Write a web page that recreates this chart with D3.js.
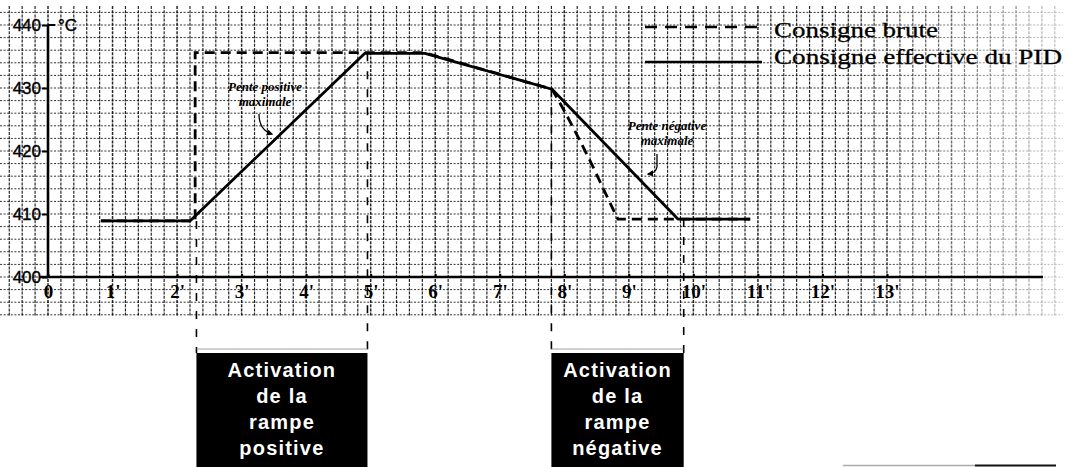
<!DOCTYPE html>
<html>
<head>
<meta charset="utf-8">
<script src="https://cdn.jsdelivr.net/npm/d3@7"></script>
<style>
  html, body { margin: 0; padding: 0; background: #fff; }
  svg { display: block; }
</style>
</head>
<body>
<svg id="chart" width="1067" height="467"></svg>
<script>
// ---- data (minutes, °C) ----
const xTicks = [0, 1, 2, 3, 4, 5, 6, 7, 8, 9, 10, 11, 12, 13];
const xLabels = ["0", "1'", "2'", "3'", "4'", "5'", "6'", "7'", "8'", "9'", "10'", "11'", "12'", "13'"];
const yTicks = [400, 410, 420, 430, 440];

// consigne effective du PID (solid)
const pidT = [0.82, 2.2, 4.91, 5.84, 7.81, 9.76, 10.88];
const pidV = [408.9, 408.9, 435.5, 435.5, 429.8, 409.2, 409.2];

// consigne brute (dashed)
const bruteT = [0.82, 2.28, 2.28, 5.84, 7.81, 8.01, 8.24, 8.43, 8.60, 8.74, 8.83, 9.76, 10.88];
const bruteV = [408.9, 408.9, 435.6, 435.6, 429.8, 426.2, 421.7, 417.8, 414.1, 411.1, 409.2, 409.2, 409.2];

// ramp activation windows
const rampStart = [2.3, 7.8];
const rampEnd = [4.95, 9.85];
const rampStartV = [408.9, 429.8];
const rampEndV = [435.5, 409.2];
const rampLabels = [
  ["Activation", "de la", "rampe", "positive"],
  ["Activation", "de la", "rampe", "négative"]
];

const legendLabels = ["Consigne brute", "Consigne effective du PID"];

// ---- scales ----
const svg = d3.select("#chart");
const W = 1067, H = 467;
const x = d3.scaleLinear().domain([0, 13]).range([48, 887]);
const y = d3.scaleLinear().domain([400, 440]).range([277, 25]);

// ---- graph paper grid ----
const defs = svg.append("defs");
const grad = defs.append("linearGradient")
  .attr("id", "fade").attr("gradientUnits", "userSpaceOnUse")
  .attr("x1", 0).attr("x2", W).attr("y1", 0).attr("y2", 0);
grad.append("stop").attr("offset", 0).attr("stop-color", "#fff");
grad.append("stop").attr("offset", 0.8).attr("stop-color", "#fff");
grad.append("stop").attr("offset", 1).attr("stop-color", "#444");
defs.append("mask").attr("id", "gridMask")
  .append("rect").attr("width", W).attr("height", H).attr("fill", "url(#fade)");

defs.append("marker")
  .attr("id", "arrow").attr("viewBox", "0 0 10 10")
  .attr("refX", 8).attr("refY", 5)
  .attr("markerWidth", 5).attr("markerHeight", 5)
  .attr("orient", "auto-start-reverse")
  .append("path").attr("d", "M0,0 L10,5 L0,10 z").attr("fill", "#000");

const grid = svg.append("g").attr("mask", "url(#gridMask)");
const gTop = 6, gBot = 316;
const vSteps = d3.range(-3, 80).map(i => i * 0.2).filter(t => x(t) >= 0 && x(t) <= W - 4);
const hSteps = d3.range(394, 443, 2);

grid.selectAll("line.v").data(vSteps).join("line")
  .attr("x1", d => x(d)).attr("x2", d => x(d))
  .attr("y1", gTop).attr("y2", gBot)
  .attr("stroke", "#000")
  .attr("stroke-width", d => Math.abs(d - Math.round(d)) < 0.01 ? 1.5 : 1.2)
  .attr("stroke-dasharray", "3,1.2")
  .attr("opacity", 0.85);

grid.selectAll("line.h").data(hSteps).join("line")
  .attr("x1", 0).attr("x2", W - 4)
  .attr("y1", d => y(d)).attr("y2", d => y(d))
  .attr("stroke", "#000")
  .attr("stroke-width", 1)
  .attr("stroke-dasharray", "2,1.6")
  .attr("opacity", 0.8);

// ---- axes ----
const yAxis = svg.append("g")
  .attr("transform", `translate(${x(0)},0)`)
  .call(d3.axisLeft(y).tickValues(yTicks).tickSize(6).tickPadding(1));
yAxis.select(".domain").remove();
yAxis.selectAll("line").attr("stroke", "#000").attr("stroke-width", 2);
yAxis.selectAll("text")
  .attr("font-family", "Liberation Sans, Arial, sans-serif")
  .attr("font-size", 17).attr("fill", "#000")
  .attr("stroke", "#000").attr("stroke-width", 0.4);

svg.append("line")
  .attr("x1", x(0)).attr("x2", x(0))
  .attr("y1", y(440)).attr("y2", y(400))
  .attr("stroke", "#000").attr("stroke-width", 2.6);
svg.append("line")
  .attr("x1", x(0)).attr("x2", x(0) + 7)
  .attr("y1", y(440)).attr("y2", y(440))
  .attr("stroke", "#000").attr("stroke-width", 2);
svg.append("text")
  .attr("x", x(0) + 10).attr("y", y(440) + 6)
  .attr("font-family", "Liberation Sans, Arial, sans-serif")
  .attr("font-size", 17).attr("stroke", "#000").attr("stroke-width", 0.4)
  .text("°C");

const xAxis = svg.append("g")
  .attr("transform", `translate(0,${y(400)})`)
  .call(d3.axisBottom(x).tickValues(xTicks)
    .tickFormat((d, i) => xLabels[i]).tickSizeInner(-3).tickSizeOuter(0).tickPadding(8));
xAxis.select(".domain").remove();
xAxis.selectAll("line").attr("stroke", "#000").attr("stroke-width", 2);
xAxis.selectAll("text")
  .attr("font-family", "Liberation Serif, Times New Roman, serif")
  .attr("font-weight", "bold")
  .attr("font-size", 19).attr("fill", "#000");

svg.append("line")
  .attr("x1", 40).attr("x2", 1043)
  .attr("y1", y(400)).attr("y2", y(400))
  .attr("stroke", "#000").attr("stroke-width", 2.6);

// ---- series ----
const line = d3.line().x(d => x(d[0])).y(d => y(d[1]));

svg.append("path")
  .datum(d3.zip(bruteT, bruteV))
  .attr("d", line)
  .attr("fill", "none").attr("stroke", "#000")
  .attr("stroke-width", 2.8).attr("stroke-dasharray", "10,6");

svg.append("path")
  .datum(d3.zip(pidT, pidV))
  .attr("d", line)
  .attr("fill", "none").attr("stroke", "#000")
  .attr("stroke-width", 2.8).attr("stroke-linejoin", "round");

// ---- ramp activation markers ----
const boxTop = 353, bracketY = 349;
rampStart.forEach((t0, i) => {
  const t1 = rampEnd[i];
  const g = svg.append("g");
  [[t0, rampStartV[i]], [t1, rampEndV[i]]].forEach(([t, v]) => {
    g.append("line")
      .attr("x1", x(t)).attr("x2", x(t))
      .attr("y1", y(v)).attr("y2", boxTop)
      .attr("stroke", "#000").attr("stroke-width", 1.6)
      .attr("stroke-dasharray", "8,10");
  });
  g.append("line")
    .attr("x1", x(t0)).attr("x2", x(t1))
    .attr("y1", bracketY).attr("y2", bracketY)
    .attr("stroke", "#888").attr("stroke-width", 0.8);
  g.append("rect")
    .attr("x", x(t0)).attr("y", boxTop)
    .attr("width", x(t1) - x(t0)).attr("height", H - boxTop + 5)
    .attr("fill", "#000");
  g.selectAll("text").data(rampLabels[i]).join("text")
    .attr("x", (x(t0) + x(t1)) / 2)
    .attr("y", (d, j) => 377 + j * 26)
    .attr("text-anchor", "middle")
    .attr("font-family", "Liberation Sans, Arial, sans-serif")
    .attr("font-weight", "bold").attr("font-size", 20)
    .attr("letter-spacing", 1.2)
    .attr("fill", "#fff")
    .text(d => d);
});

// ---- slope annotations ----
const annot = [
  { lines: ["Pente positive", "maximale"], cx: 265, cy: 91, arrow: "M259,114 Q259,130 272,134" },
  { lines: ["Pente négative", "maximale"], cx: 667, cy: 130, arrow: "M657,154 L657,167 Q656,173 648,174" }
];
annot.forEach(a => {
  svg.selectAll(null).data(a.lines).join("text")
    .attr("x", a.cx).attr("y", (d, j) => a.cy + j * 15)
    .attr("text-anchor", "middle")
    .attr("font-family", "Liberation Serif, Times New Roman, serif")
    .attr("font-style", "italic").attr("font-weight", "bold")
    .attr("font-size", 13)
    .text(d => d);
  svg.append("path").attr("d", a.arrow)
    .attr("fill", "none").attr("stroke", "#000").attr("stroke-width", 1.3)
    .attr("marker-end", "url(#arrow)");
});

// ---- legend ----
const legY = [27, 62];
legendLabels.forEach((lab, i) => {
  svg.append("line")
    .attr("x1", 645).attr("x2", 762)
    .attr("y1", legY[i]).attr("y2", legY[i])
    .attr("stroke", "#000").attr("stroke-width", 2.4)
    .attr("stroke-dasharray", i === 0 ? "12,8" : null);
  svg.append("text")
    .attr("x", 774).attr("y", i === 0 ? 37 : 64)
    .attr("font-family", "Liberation Serif, Times New Roman, serif")
    .attr("font-size", 22)
    .attr("stroke", "#000").attr("stroke-width", 0.3)
    .attr("textLength", i === 0 ? 164 : 288)
    .attr("lengthAdjust", "spacingAndGlyphs")
    .text(lab);
});

// scan edge at bottom right
svg.append("line").attr("x1", 843).attr("x2", 975).attr("y1", 465.5).attr("y2", 465.5)
  .attr("stroke", "#aaa").attr("stroke-width", 1.5);
svg.append("line").attr("x1", 975).attr("x2", 1056).attr("y1", 465.5).attr("y2", 465.5)
  .attr("stroke", "#111").attr("stroke-width", 2);
</script>
</body>
</html>
